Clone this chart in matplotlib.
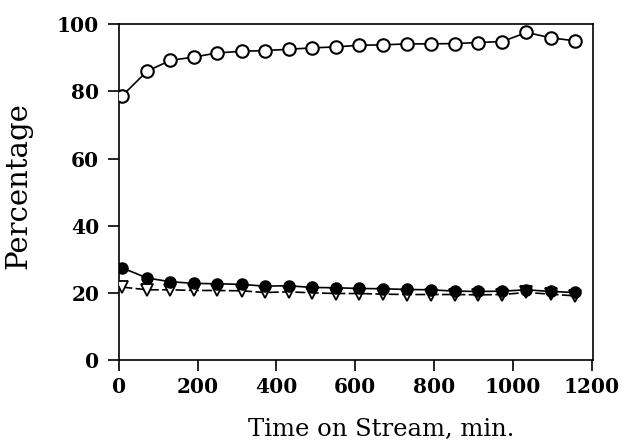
import numpy as np
import matplotlib
matplotlib.use("Agg")
import matplotlib.pyplot as plt

# data
time_min = [9, 72, 131, 192, 249, 312, 370, 431, 489, 551,
            610, 670, 731, 791, 853, 912, 973, 1034, 1096, 1157]
open_circle = [78.7, 86.0, 89.2, 90.2, 91.4, 91.9, 92.1, 92.5, 92.9, 93.2,
               93.7, 93.8, 94.1, 94.1, 94.2, 94.5, 94.8, 97.5, 95.9, 95.0]
filled_circle = [27.5, 24.5, 23.4, 22.9, 22.8, 22.6, 22.1, 22.2, 21.7, 21.6,
                 21.4, 21.3, 21.1, 21.0, 20.6, 20.5, 20.6, 21.0, 20.5, 20.2]
open_triangle = [21.8, 21.0, 21.0, 20.8, 20.8, 20.7, 20.2, 20.4, 20.1, 19.9,
                 19.9, 19.7, 19.6, 19.6, 19.6, 19.5, 19.6, 20.2, 19.7, 19.2]

font = ['DejaVu Serif']

fig = plt.figure(figsize=(6.25, 4.45), dpi=100)
ax = fig.add_axes([0.19, 0.19, 0.759, 0.756])

ax.plot(time_min, open_triangle, color='black', linestyle=(0, (6, 2)), linewidth=1.2,
        marker='v', markersize=8, markerfacecolor='white', markeredgecolor='black',
        markeredgewidth=1.3, zorder=3)
ax.plot(time_min, filled_circle, color='black', linewidth=1.2,
        marker='o', markersize=8, markerfacecolor='black', markeredgecolor='black',
        zorder=4)
ax.plot(time_min, open_circle, color='black', linewidth=1.2,
        marker='o', markersize=9, markerfacecolor='white', markeredgecolor='black',
        markeredgewidth=1.5, zorder=5)

ax.set_xlim(0, 1203)
ax.set_ylim(0, 100)
ax.set_xticks(np.arange(0, 1201, 200))
ax.set_yticks(np.arange(0, 101, 20))
ax.tick_params(direction='out', length=8, width=1.2, top=False, right=False)
ax.tick_params(axis='x', pad=4)
ax.tick_params(axis='y', pad=6)
for lab in ax.get_xticklabels() + ax.get_yticklabels():
    lab.set_family(font)
    lab.set_fontweight('bold')
    lab.set_fontsize(14.5)
for sp in ax.spines.values():
    sp.set_linewidth(1.2)

ax.set_xlabel('Time on Stream, min.', family=font, fontsize=17.5)
ax.set_ylabel('Percentage', family=font, fontsize=21)
ax.xaxis.set_label_coords(0.553, -0.17)
ax.yaxis.set_label_coords(-0.182, 0.52)

fig.savefig('out.png', dpi=100)
